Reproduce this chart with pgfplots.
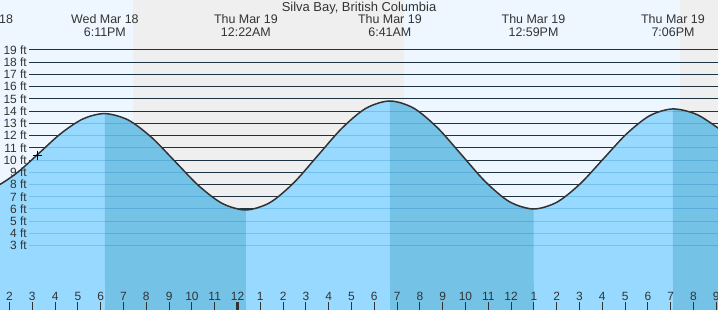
\documentclass[border=0pt]{standalone}
\usepackage{fontspec}
\setmainfont{Liberation Sans}
\usepackage{pgfplots}
\usepackage{pgfplotstable}
\pgfplotsset{compat=1.18}
\definecolor{daybg}{HTML}{EEF7FF}
\definecolor{nightbg}{HTML}{EFEFEF}
\definecolor{waterL}{HTML}{98DAFF}
\definecolor{waterD}{HTML}{74C2E6}
\definecolor{txt}{HTML}{333333}
\definecolor{uline}{HTML}{0064AA}

\pgfplotstableread{
t f
-11.54 7.42
-10.586 7.85
-9.632 9.015
-8.679 10.61
-7.725 12.205
-6.771 13.37
-5.817 13.8
-4.786 13.27
-3.755 11.83
-2.725 9.86
-1.694 7.89
-0.664 6.45
0.367 5.92
1.420 6.52
2.472 8.15
3.525 10.375
4.578 12.60
5.630 14.23
6.683 14.83
7.733 14.24
8.783 12.62
9.833 10.415
10.883 8.21
11.933 6.59
12.983 6.0
14.003 6.55
15.022 8.045
16.042 10.09
17.061 12.135
18.081 13.63
19.1 14.18
20.167 13.71
21.233 12.41
}\tide

\begin{document}
\begin{tikzpicture}
\begin{axis}[width=718bp, height=310bp, scale only axis,
  xmin=-10.417, xmax=21.075, ymin=-2.259, ymax=23.088, hide axis]
% day / night background
\fill[daybg] (axis cs:-11,-3) rectangle (axis cs:22,24);
\fill[nightbg] (axis cs:-4.583,-3) rectangle (axis cs:7.303,24);
\fill[nightbg] (axis cs:19.408,-3) rectangle (axis cs:22,24);
% grid lines above water
\pgfplotsinvokeforeach{3,...,19}{\draw[black!85, line width=1bp] (axis cs:-9.145,#1) -- (axis cs:22,#1);}
% water (light: rising tide, dark: falling tide)
\addplot[fill=waterL, draw=none, smooth] table[x=t, y=f] {\tide} \closedcycle;
\addplot[fill=waterD, draw=none, smooth, restrict x to domain=-5.82:0.37, unbounded coords=jump] table[x=t, y=f] {\tide} \closedcycle;
\addplot[fill=waterD, draw=none, smooth, restrict x to domain=6.68:12.99, unbounded coords=jump] table[x=t, y=f] {\tide} \closedcycle;
\addplot[fill=waterD, draw=none, smooth, restrict x to domain=19.09:22, unbounded coords=jump] table[x=t, y=f] {\tide} \closedcycle;
\fill[waterL] (axis cs:-11,-3) rectangle (axis cs:22,0.02);
\fill[waterD] (axis cs:-5.817,-3) rectangle (axis cs:0.367,0.02);
\fill[waterD] (axis cs:6.683,-3) rectangle (axis cs:12.983,0.02);
\fill[waterD] (axis cs:19.1,-3) rectangle (axis cs:22,0.02);
% grid lines under water
\pgfplotsinvokeforeach{3,...,19}{\draw[uline, opacity=0.22, line width=1bp] (axis cs:-9.145,#1) -- (axis cs:22,#1);}
% tide curve
\addplot[txt, line width=1.5bp, smooth] table[x=t, y=f] {\tide};
% y labels
\pgfplotsinvokeforeach{3,...,19}{\node[anchor=east, inner sep=0pt, font=\fontsize{12}{12}\selectfont, text=txt] at (axis cs:-9.232,#1) {#1 ft};}
% current time marker
\addplot[only marks, mark=+, mark size=4.5bp, black, line width=1bp] coordinates {(-8.79,10.41)};
% title
\node[anchor=base, inner sep=0pt, font=\fontsize{13}{13}\selectfont, text=txt] at (axis cs:5.33,22.13) {Silva Bay, British Columbia};
% tide extreme labels
\node[anchor=base, inner sep=0pt, font=\fontsize{12.5}{12.5}\selectfont, text=txt] at (axis cs:-11.33,21.126) {Wed Mar 18};
\node[anchor=base, inner sep=0pt, font=\fontsize{12.5}{12.5}\selectfont, text=txt] at (axis cs:-12.2,20.087) {12:27PM};
\node[anchor=base, inner sep=0pt, font=\fontsize{12.5}{12.5}\selectfont, text=txt] at (axis cs:-5.817,21.126) {Wed Mar 18};
\node[anchor=base, inner sep=0pt, font=\fontsize{12.5}{12.5}\selectfont, text=txt] at (axis cs:-5.817,20.087) {6:11PM};
\node[anchor=base, inner sep=0pt, font=\fontsize{12.5}{12.5}\selectfont, text=txt] at (axis cs:0.367,21.126) {Thu Mar 19};
\node[anchor=base, inner sep=0pt, font=\fontsize{12.5}{12.5}\selectfont, text=txt] at (axis cs:0.367,20.087) {12:22AM};
\node[anchor=base, inner sep=0pt, font=\fontsize{12.5}{12.5}\selectfont, text=txt] at (axis cs:6.683,21.126) {Thu Mar 19};
\node[anchor=base, inner sep=0pt, font=\fontsize{12.5}{12.5}\selectfont, text=txt] at (axis cs:6.683,20.087) {6:41AM};
\node[anchor=base, inner sep=0pt, font=\fontsize{12.5}{12.5}\selectfont, text=txt] at (axis cs:12.983,21.126) {Thu Mar 19};
\node[anchor=base, inner sep=0pt, font=\fontsize{12.5}{12.5}\selectfont, text=txt] at (axis cs:12.983,20.087) {12:59PM};
\node[anchor=base, inner sep=0pt, font=\fontsize{12.5}{12.5}\selectfont, text=txt] at (axis cs:19.1,21.126) {Thu Mar 19};
\node[anchor=base, inner sep=0pt, font=\fontsize{12.5}{12.5}\selectfont, text=txt] at (axis cs:19.1,20.087) {7:06PM};
% hour ticks and labels
\pgfplotsinvokeforeach{-10,...,21}{
  \draw[txt, line width=1bp] (axis cs:#1,-2.3) -- (axis cs:#1,-1.605);
  \node[anchor=base, inner sep=0pt, font=\fontsize{12}{12}\selectfont, text=txt] at (axis cs:#1,-1.442) {\pgfmathparse{int(mod(#1+23,12)+1)}\pgfmathresult};
}
\draw[txt, line width=3bp] (axis cs:0,-2.3) -- (axis cs:0,-1.605);
\end{axis}
\pgfresetboundingbox
\path[use as bounding box] (current axis.south west) rectangle (current axis.north east);
\end{tikzpicture}
\end{document}
